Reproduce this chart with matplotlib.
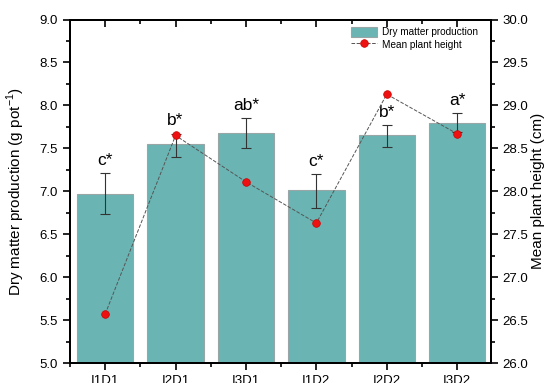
import matplotlib
matplotlib.use('Agg')
from matplotlib import pyplot as plt
from matplotlib.ticker import MultipleLocator, FormatStrFormatter

plt.rcParams['font.family'] = ['Liberation Sans', 'DejaVu Sans']
plt.rcParams['mathtext.fontset'] = 'custom'
plt.rcParams['mathtext.rm'] = 'Liberation Sans'

# data
treatments = ['I1D1', 'I2D1', 'I3D1', 'I1D2', 'I2D2', 'I3D2']
dry_matter = [6.97, 7.55, 7.68, 7.01, 7.65, 7.80]
dry_err_low = [0.23, 0.15, 0.18, 0.20, 0.13, 0.11]
dry_err_high = [0.24, 0.12, 0.17, 0.19, 0.12, 0.11]
letters = ['c*', 'b*', 'ab*', 'c*', 'b*', 'a*']
plant_height = [26.57, 28.65, 28.11, 27.63, 29.13, 28.67]

fig = plt.figure(figsize=(5.51, 3.83), dpi=100)
ax = fig.add_axes([0.127, 0.052, 0.764, 0.897])
ax2 = ax.twinx()

x = list(range(len(treatments)))
bars = ax.bar(x, dry_matter, width=0.8, color='#6ab5b4', edgecolor='#9aa5a5',
              linewidth=0.8, label='Dry matter production', zorder=2)
ax.errorbar(x, dry_matter, yerr=[dry_err_low, dry_err_high], fmt='none',
            ecolor='#333333', elinewidth=0.8, capsize=3.5, capthick=0.8, zorder=3)

for xi, y, e, lab in zip(x, dry_matter, dry_err_high, letters):
    ax.annotate(lab, (xi, y + e), textcoords='offset points', xytext=(0, 4),
                ha='center', va='bottom', fontsize=12.5)

line, = ax2.plot(x, plant_height, linestyle='--', color='#555555', linewidth=0.7,
                 marker='o', markersize=5.5, markerfacecolor='#ee1111',
                 markeredgecolor='#cc0000', markeredgewidth=0.5,
                 label='Mean plant height', zorder=4)

ax.set_xlim(-0.48, 5.48)
ax.set_ylim(5.0, 9.0)
ax2.set_ylim(26.0, 30.0)

ax.set_xticks(x)
ax.set_xticklabels(treatments)
ax.set_xticks([i + 0.5 for i in x[:-1]] + [-0.5], minor=True)
for a in (ax, ax2):
    a.yaxis.set_major_locator(MultipleLocator(0.5))
    a.yaxis.set_minor_locator(MultipleLocator(0.25))
    a.yaxis.set_major_formatter(FormatStrFormatter('%.1f'))
    a.tick_params(axis='y', which='major', length=5, width=1.2, labelsize=9.5)
    a.tick_params(axis='y', which='minor', length=3, width=1.2)
    for s in a.spines.values():
        s.set_linewidth(1.4)

ax.tick_params(axis='x', which='both', top=True, direction='out', labelsize=9.5)
ax.tick_params(axis='x', which='major', length=5, width=1.2)
ax.tick_params(axis='x', which='minor', length=3, width=1.2)
# top ticks point inward
for t in ax.xaxis.get_major_ticks() + ax.xaxis.get_minor_ticks():
    t.tick2line.set_marker(matplotlib.lines.TICKDOWN)

ax.set_ylabel('Dry matter production (g pot$^{-1}$)', fontsize=11, labelpad=9)
ax2.set_ylabel('Mean plant height (cm)', fontsize=11, labelpad=2)

ax2.legend([bars, line], ['Dry matter production', 'Mean plant height'],
           loc='upper right', bbox_to_anchor=(0.985, 1.0), frameon=False,
           fontsize=7.2, handlelength=2.6, handleheight=1.3, borderaxespad=0.3,
           labelspacing=0.15, handletextpad=0.5)

plt.savefig('out.png', dpi=100)
plt.close()
